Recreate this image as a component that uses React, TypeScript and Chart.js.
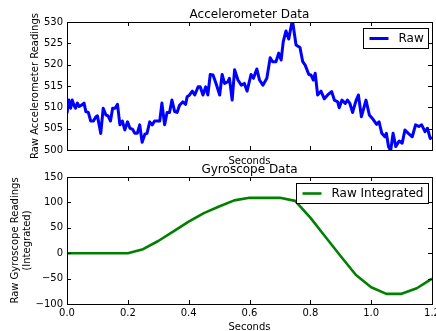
import { useEffect, useRef } from "react";
import { Chart, registerables } from "chart.js";

Chart.register(...registerables);

const FONT = "'DejaVu Sans', 'Liberation Sans', sans-serif";
Chart.defaults.font.family = FONT;
Chart.defaults.color = "#000";

// ---------- Data ----------
const accelTime = [
  0.000, 0.006, 0.012, 0.017, 0.023, 0.028, 0.034, 0.040, 0.048, 0.056,
  0.062, 0.070, 0.078, 0.087, 0.095, 0.100, 0.111, 0.119, 0.128, 0.135,
  0.143, 0.150, 0.158, 0.166, 0.174, 0.182, 0.190, 0.199, 0.207, 0.215,
  0.223, 0.231, 0.239, 0.247, 0.256, 0.263, 0.272, 0.280, 0.288, 0.305,
  0.312, 0.321, 0.329, 0.337, 0.345, 0.354, 0.362, 0.370, 0.381, 0.390,
  0.395, 0.403, 0.412, 0.420, 0.431, 0.438, 0.447, 0.456, 0.463, 0.471,
  0.480, 0.490, 0.502, 0.510, 0.518, 0.529, 0.534, 0.543, 0.551, 0.562,
  0.573, 0.583, 0.592, 0.605, 0.613, 0.624, 0.633, 0.644, 0.657, 0.668,
  0.676, 0.687, 0.696, 0.704, 0.711, 0.720, 0.729, 0.741, 0.753, 0.766,
  0.775, 0.783, 0.795, 0.802, 0.810, 0.816, 0.824, 0.835, 0.846, 0.857,
  0.870, 0.879, 0.890, 0.895, 0.904, 0.915, 0.922, 0.930, 0.939, 0.950,
  0.958, 0.968, 0.983, 0.994, 1.004, 1.018, 1.026, 1.035, 1.045, 1.050,
  1.057, 1.064, 1.072, 1.081, 1.092, 1.102, 1.111, 1.122, 1.135, 1.146,
  1.157, 1.166, 1.177, 1.185, 1.194, 1.200,
];
const accelRaw = [
  508.6, 511.7, 509.8, 511.7, 510.5, 509.8, 511.0, 510.2, 510.5, 511.0,
  509.0, 508.8, 506.8, 506.8, 507.8, 508.0, 503.9, 509.8, 508.2, 508.0,
  506.8, 509.8, 509.8, 510.7, 505.9, 506.8, 504.7, 506.6, 505.1, 504.9,
  503.9, 503.9, 505.9, 501.8, 503.7, 503.9, 506.6, 505.9, 506.8, 506.8,
  511.0, 505.9, 508.8, 508.8, 511.7, 509.0, 508.8, 510.5, 511.3, 510.7,
  512.5, 512.9, 513.8, 512.9, 514.8, 514.8, 512.9, 514.8, 512.9, 517.7,
  517.6, 515.6, 512.9, 517.7, 515.6, 516.0, 516.8, 511.7, 518.8, 516.4,
  515.2, 515.6, 513.8, 517.7, 516.8, 519.0, 516.4, 515.2, 516.8, 521.6,
  520.7, 520.7, 522.7, 521.1, 525.4, 527.9, 526.0, 530.5, 524.6, 524.0,
  520.7, 519.9, 517.7, 517.6, 516.4, 518.0, 512.9, 513.8, 512.0, 512.9,
  513.7, 511.7, 511.3, 509.9, 511.7, 510.9, 511.7, 510.9, 508.8, 511.5,
  512.9, 507.8, 511.7, 508.2, 507.4, 506.0, 506.6, 503.9, 503.1, 503.9,
  500.8, 499.8, 503.9, 500.8, 502.1, 501.6, 504.7, 503.9, 503.1, 505.9,
  505.5, 505.9, 504.3, 505.1, 502.7, 503.0,
];

const gyroTime = [
  0.0, 0.05, 0.1, 0.15, 0.2, 0.25, 0.3, 0.35, 0.4, 0.45, 0.5, 0.55, 0.6,
  0.65, 0.7, 0.75, 0.8, 0.85, 0.9, 0.95, 1.0, 1.05, 1.1, 1.15, 1.2,
];
const gyroIntegrated = [
  0, 0, 0, 0, 0, 8, 24, 43, 62, 79, 92, 104, 109,
  109, 109, 103, 70, 32, -6, -43, -67, -80, -80, -69, -50,
];

const accelTitle = "Accelerometer Data";
const gyroTitle = "Gyroscope Data";
const xLabel = "Seconds";
const accelYLabel = "Raw Accelerometer Readings";
const gyroYLabel = ["Raw Gyroscope Readings", "(Integrated)"];
const accelLegend = "Raw";
const gyroLegend = "Raw Integrated";

const fmtTick = (v: number, dec: number) => {
  const s = Math.abs(v).toFixed(dec);
  return v < 0 ? "\u2212" + s : s;
};

// ---------- Plugin: matplotlib-like frame, inward ticks, title, legend ----------
const mplDecor = {
  id: "mplDecor",
  afterDatasetsDraw(chart: any) {
    const { ctx, chartArea: a, scales } = chart;
    const opts = chart.options.plugins.mplDecor || {};
    ctx.save();
    ctx.strokeStyle = "#000";
    ctx.lineWidth = 1;
    const L = 4;
    ctx.beginPath();
    for (const t of scales.x.ticks) {
      const px = Math.round(scales.x.getPixelForValue(t.value)) + 0.5;
      ctx.moveTo(px, a.bottom);
      ctx.lineTo(px, a.bottom - L);
      ctx.moveTo(px, a.top);
      ctx.lineTo(px, a.top + L);
    }
    for (const t of scales.y.ticks) {
      const py = Math.round(scales.y.getPixelForValue(t.value)) + 0.5;
      ctx.moveTo(a.left, py);
      ctx.lineTo(a.left + L, py);
      ctx.moveTo(a.right, py);
      ctx.lineTo(a.right - L, py);
    }
    ctx.stroke();
    ctx.strokeRect(
      Math.round(a.left) + 0.5,
      Math.round(a.top) + 0.5,
      Math.round(a.right - a.left),
      Math.round(a.bottom - a.top)
    );

    // title
    if (opts.title) {
      ctx.fillStyle = "#000";
      ctx.font = `12px ${FONT}`;
      ctx.textAlign = "center";
      ctx.textBaseline = "middle";
      ctx.fillText(opts.title, (a.left + a.right) / 2, a.top - 7);
    }

    // legend
    const ds = chart.data.datasets[0];
    ctx.font = `12px ${FONT}`;
    const tw = ctx.measureText(ds.label).width;
    const lineLen = 19, padL = 6, gap = 10, padR = 5, h = 20;
    const w = padL + lineLen + gap + tw + padR;
    const x1 = Math.round(a.right - 4 - w) + 0.5;
    const y1 = Math.round(a.top + 6) + 0.5;
    ctx.fillStyle = "#fff";
    ctx.fillRect(x1, y1, Math.round(w), h);
    ctx.strokeStyle = "#000";
    ctx.lineWidth = 1;
    ctx.strokeRect(x1, y1, Math.round(w), h);
    ctx.beginPath();
    ctx.strokeStyle = ds.borderColor;
    ctx.lineWidth = ds.borderWidth;
    ctx.moveTo(x1 + padL, y1 + h / 2);
    ctx.lineTo(x1 + padL + lineLen, y1 + h / 2);
    ctx.stroke();
    ctx.fillStyle = "#000";
    ctx.textAlign = "left";
    ctx.textBaseline = "middle";
    ctx.fillText(ds.label, x1 + padL + lineLen + gap, y1 + h / 2 + 0.5);
    ctx.restore();
  },
};

function topConfig(): any {
  return {
    type: "line",
    data: {
      datasets: [
        {
          label: accelLegend,
          data: accelTime.map((t, i) => ({ x: t, y: accelRaw[i] })),
          borderColor: "#0000ff",
          borderWidth: 3,
          pointRadius: 0,
          fill: false,
          tension: 0,
          borderJoinStyle: "round",
        },
      ],
    },
    options: {
      animation: false,
      responsive: false,
      devicePixelRatio: 1,
      layout: { padding: { top: 22, right: 14, left: 0, bottom: 0 } },
      plugins: {
        legend: { display: false },
        tooltip: { enabled: false },
        mplDecor: { title: accelTitle },
      },
      scales: {
        x: {
          type: "linear",
          min: 0,
          max: 1.2,
          ticks: { stepSize: 0.2, display: false },
          grid: { display: false, drawTicks: false },
          border: { display: false },
          title: { display: true, text: xLabel, font: { size: 10 }, padding: 0, color: "#000" },
          afterFit: (s: any) => { s.height = 17; },
        },
        y: {
          type: "linear",
          min: 500,
          max: 530,
          ticks: { stepSize: 5, padding: 4, font: { size: 10 }, color: "#000" },
          grid: { display: false, drawTicks: false },
          border: { display: false },
          title: { display: true, text: accelYLabel, font: { size: 10 }, padding: { top: 29, bottom: 0 }, color: "#000" },
          afterFit: (s: any) => { s.width = 67; },
        },
      },
    },
    plugins: [mplDecor],
  };
}

function bottomConfig(): any {
  return {
    type: "line",
    data: {
      datasets: [
        {
          label: gyroLegend,
          data: gyroTime.map((t, i) => ({ x: t, y: gyroIntegrated[i] })),
          borderColor: "#008000",
          borderWidth: 2.6,
          pointRadius: 0,
          fill: false,
          tension: 0,
          borderJoinStyle: "round",
        },
      ],
    },
    options: {
      animation: false,
      responsive: false,
      devicePixelRatio: 1,
      layout: { padding: { top: 19, right: 14, left: 0, bottom: 5 } },
      plugins: {
        legend: { display: false },
        tooltip: { enabled: false },
        mplDecor: { title: gyroTitle },
      },
      scales: {
        x: {
          type: "linear",
          min: 0,
          max: 1.2,
          ticks: {
            stepSize: 0.2,
            padding: 3,
            font: { size: 10 },
            color: "#000",
            maxRotation: 0,
            callback: (v: any) => fmtTick(Number(v), 1),
          },
          grid: { display: false, drawTicks: false },
          border: { display: false },
          title: { display: true, text: xLabel, font: { size: 10 }, padding: 0, color: "#000" },
          afterFit: (s: any) => { s.height = 29; },
        },
        y: {
          type: "linear",
          min: -100,
          max: 150,
          ticks: {
            stepSize: 50,
            padding: 4,
            font: { size: 10 },
            color: "#000",
            callback: (v: any) => fmtTick(Number(v), 0),
          },
          grid: { display: false, drawTicks: false },
          border: { display: false },
          title: { display: true, text: gyroYLabel, font: { size: 10 }, padding: { top: 9, bottom: 0 }, color: "#000" },
          afterFit: (s: any) => { s.width = 67; },
        },
      },
    },
    plugins: [mplDecor],
  };
}

export default function App() {
  const topRef = useRef<HTMLCanvasElement>(null);
  const botRef = useRef<HTMLCanvasElement>(null);

  useEffect(() => {
    const c1 = new Chart(topRef.current as HTMLCanvasElement, topConfig());
    const c2 = new Chart(botRef.current as HTMLCanvasElement, bottomConfig());
    return () => {
      c1.destroy();
      c2.destroy();
    };
  }, []);

  return (
    <div
      style={{
        position: "fixed",
        left: 0,
        top: 0,
        width: 436,
        height: 331,
        overflow: "hidden",
        background: "#fff",
      }}
    >
      <canvas ref={topRef} width={446} height={167} style={{ position: "absolute", left: 0, top: 0 }} />
      <canvas ref={botRef} width={446} height={180} style={{ position: "absolute", left: 0, top: 158 }} />
    </div>
  );
}
